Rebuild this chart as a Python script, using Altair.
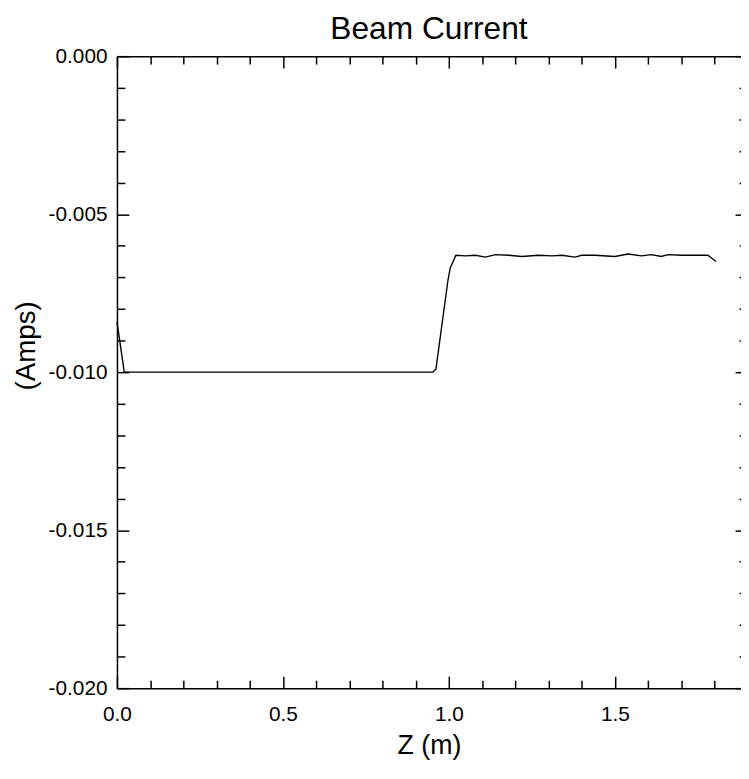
import altair as alt
import pandas as pd

# ---- data ----
z_m = [0.0, 0.022, 0.952, 0.961, 0.997, 1.004, 1.021, 1.05, 1.08, 1.11, 1.14,
       1.18, 1.22, 1.27, 1.31, 1.34, 1.38, 1.40, 1.44, 1.50, 1.54, 1.58, 1.61,
       1.64, 1.66, 1.70, 1.74, 1.78, 1.805]
current_a = [-0.0084, -0.0100, -0.0100, -0.0099, -0.0071, -0.0067, -0.0063,
             -0.00632, -0.0063, -0.00636, -0.00628, -0.0063, -0.00634, -0.0063,
             -0.00632, -0.0063, -0.00636, -0.0063, -0.0063, -0.00634, -0.00626,
             -0.00632, -0.00628, -0.00634, -0.00628, -0.0063, -0.0063, -0.0063,
             -0.0065]

x_domain = [0.0, 1.88]
y_domain = [-0.020, 0.0]
x_major = [0.0, 0.5, 1.0, 1.5]
x_minor = [0.1, 0.2, 0.3, 0.4, 0.6, 0.7, 0.8, 0.9, 1.1, 1.2, 1.3, 1.4, 1.6, 1.7, 1.8]
y_major = [0.0, -0.005, -0.010, -0.015, -0.020]
y_minor = [-0.001, -0.002, -0.003, -0.004, -0.006, -0.007, -0.008, -0.009,
           -0.011, -0.012, -0.013, -0.014, -0.016, -0.017, -0.018, -0.019]

df = pd.DataFrame({"z": z_m, "i": current_a})

FONT = "Liberation Sans"
BLACK = "#000000"


def tick_axis(orient, values, size, offset, domain=False, ticks=True):
    return alt.Axis(orient=orient, values=values, tickSize=size, offset=offset,
                    labels=False, domain=domain, ticks=ticks, grid=False, title=None,
                    minExtent=0, maxExtent=0,
                    tickColor=BLACK, tickWidth=1.5, domainColor=BLACK, domainWidth=1.5)


def layer(xaxis, yaxis, opacity=0.0):
    return alt.Chart(df).mark_line(color=BLACK, strokeWidth=1.4, opacity=opacity).encode(
        x=alt.X("z:Q", scale=alt.Scale(domain=x_domain, nice=False, zero=False), axis=xaxis),
        y=alt.Y("i:Q", scale=alt.Scale(domain=y_domain, nice=False, zero=False), axis=yaxis),
    )


x_main = alt.Axis(orient="bottom", values=x_major, format=".1f", ticks=False, domain=True,
                  domainColor=BLACK, domainWidth=1.5, labelPadding=16, labelFont=FONT,
                  labelFontSize=21, labelColor=BLACK, labelFlush=False, labelOverlap=False,
                  grid=False, title="Z (m)", titleFont=FONT, titleFontSize=27,
                  titleFontWeight="normal", titleColor=BLACK, titleBaseline="alphabetic",
                  titleY=66, titleAlign="center")

y_main = alt.Axis(orient="left", values=y_major, ticks=False, domain=True,
                  domainColor=BLACK, domainWidth=1.5, labelPadding=10, labelFont=FONT,
                  labelFontSize=21, labelColor=BLACK, labelFlush=False, labelOverlap=False,
                  labelExpr="(datum.value < 0 ? '-' : '') + format(abs(datum.value), '.3f')",
                  grid=False, title="(Amps)", titleFont=FONT, titleFontSize=28,
                  titleFontWeight="normal", titleColor=BLACK, titleAngle=270,
                  titleBaseline="middle", titleAlign="center", titleX=-91, titleY=292)

main = layer(x_main, y_main, opacity=1.0)
major_bl = layer(tick_axis("bottom", x_major, 12, -12), tick_axis("left", y_major, 12, -12))
minor_bl = layer(tick_axis("bottom", x_minor, 8, -8), tick_axis("left", y_minor, 8, -8))
major_tr = layer(tick_axis("top", x_major, 12, -12), tick_axis("right", y_major, 12, -6))
minor_tr = layer(tick_axis("top", x_minor, 8, -8), tick_axis("right", y_minor, 8, -2))
top_line = layer(tick_axis("top", x_major, 0, 0, domain=True, ticks=False), None)

chart = alt.layer(major_bl, minor_bl, major_tr, minor_tr, top_line, main).resolve_axis(
    x="independent", y="independent"
).properties(
    width=630,
    height=638,
    padding={"left": 110, "top": 45, "right": 0, "bottom": 80},
    autosize=alt.AutoSizeParams(type="none"),
    title=alt.TitleParams("Beam Current", font=FONT, fontSize=32, fontWeight="normal",
                          color=BLACK, anchor="middle", offset=1, dy=27,
                          baseline="alphabetic"),
    background="white",
).configure_view(stroke=None)

chart.save("out.html", embed_options={"renderer": "svg", "actions": False})
